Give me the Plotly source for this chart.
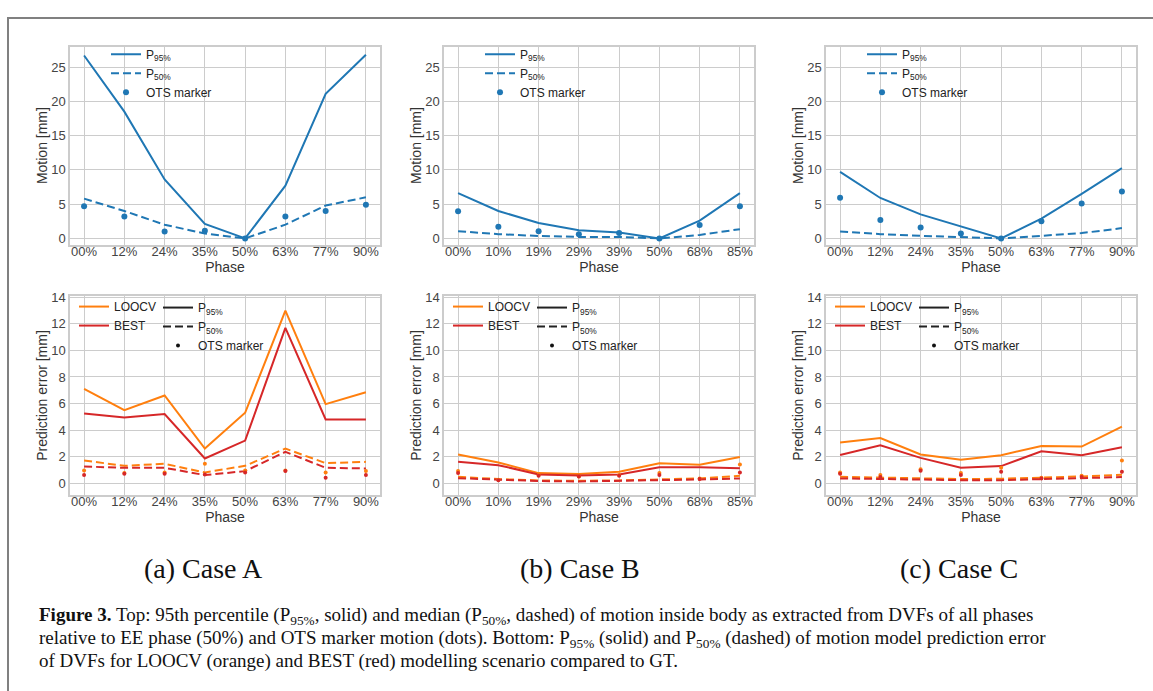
import plotly.graph_objects as go

W, H = 1153, 691

# ---------------- data ----------------
phases_A = ["00%", "12%", "24%", "35%", "50%", "63%", "77%", "90%"]
phases_B = ["00%", "10%", "19%", "29%", "39%", "50%", "68%", "85%"]
phases_C = ["00%", "12%", "24%", "35%", "50%", "63%", "77%", "90%"]

# top row: motion [mm]
motion_p95_A = [26.7, 18.5, 8.6, 2.1, 0.0, 7.7, 21.1, 26.8]
motion_p50_A = [5.8, 4.0, 2.0, 0.7, 0.0, 2.0, 4.8, 6.0]
motion_ots_A = [4.7, 3.2, 1.0, 1.1, 0.0, 3.2, 4.0, 4.9]

motion_p95_B = [6.6, 4.0, 2.25, 1.2, 0.85, 0.0, 2.6, 6.6]
motion_p50_B = [1.05, 0.62, 0.35, 0.22, 0.22, 0.0, 0.5, 1.35]
motion_ots_B = [3.95, 1.7, 1.05, 0.6, 0.8, 0.0, 1.95, 4.7]

motion_p95_C = [9.7, 5.9, 3.5, 1.7, 0.0, 2.9, 6.5, 10.25]
motion_p50_C = [1.0, 0.62, 0.38, 0.2, 0.0, 0.38, 0.77, 1.5]
motion_ots_C = [5.95, 2.7, 1.6, 0.7, 0.0, 2.5, 5.1, 6.85]

# bottom row: prediction error [mm]
loocv_p95_A = [7.1, 5.5, 6.6, 2.6, 5.3, 13.0, 5.95, 6.85]
best_p95_A = [5.25, 4.95, 5.2, 1.85, 3.2, 11.7, 4.8, 4.8]
loocv_p50_A = [1.7, 1.3, 1.45, 0.8, 1.3, 2.6, 1.5, 1.6]
best_p50_A = [1.25, 1.15, 1.15, 0.6, 0.9, 2.35, 1.15, 1.1]
loocv_ots_A = [0.95, 0.75, 0.8, 1.45, 0.95, 0.95, 0.8, 0.9]
best_ots_A = [0.6, 0.7, 0.7, 0.65, 0.8, 0.9, 0.4, 0.6]

loocv_p95_B = [2.15, 1.55, 0.75, 0.68, 0.85, 1.5, 1.38, 1.97]
best_p95_B = [1.6, 1.35, 0.65, 0.57, 0.65, 1.2, 1.2, 1.12]
loocv_p50_B = [0.47, 0.3, 0.2, 0.17, 0.2, 0.27, 0.35, 0.55]
best_p50_B = [0.37, 0.25, 0.15, 0.12, 0.15, 0.22, 0.27, 0.35]
loocv_ots_B = [0.9, 0.25, 0.6, 0.5, 0.6, 0.75, 0.35, 1.4]
best_ots_B = [0.75, 0.22, 0.55, 0.5, 0.55, 0.6, 0.3, 0.8]

loocv_p95_C = [3.05, 3.4, 2.15, 1.75, 2.1, 2.8, 2.75, 4.25]
best_p95_C = [2.12, 2.85, 1.9, 1.15, 1.28, 2.4, 2.1, 2.7]
loocv_p50_C = [0.47, 0.4, 0.32, 0.3, 0.32, 0.4, 0.5, 0.62]
best_p50_C = [0.35, 0.3, 0.25, 0.22, 0.22, 0.3, 0.37, 0.45]
loocv_ots_C = [0.8, 0.6, 1.05, 0.75, 1.15, 0.4, 0.55, 1.7]
best_ots_C = [0.7, 0.45, 0.92, 0.6, 0.85, 0.35, 0.45, 0.85]

case_labels = ["(a) Case A", "(b) Case B", "(c) Case C"]
caption_lines = [
    "<b>Figure 3.</b> Top: 95th percentile (P<sub>95%</sub>, solid) and median (P<sub>50%</sub>, dashed) of motion inside body as extracted from DVFs of all phases",
    "relative to EE phase (50%) and OTS marker motion (dots). Bottom: P<sub>95%</sub> (solid) and P<sub>50%</sub> (dashed) of motion model prediction error",
    "of DVFs for LOOCV (orange) and BEST (red) modelling scenario compared to GT.",
]

# ---------------- style ----------------
BLUE = "#1f77b4"
ORANGE = "#ff7f0e"
RED = "#d62728"
GRID = "#cccccc"
TXT = "#333333"
SANS = "Liberation Sans, Arial, sans-serif"
SERIF = "Liberation Serif, Times New Roman, serif"
DASH = "8px,4px"
LW = 2

def px_x(p):
    return p / W

def px_y(p):
    return 1 - p / H

col_px = [(70, 380), (444, 754), (826, 1136)]
top_px = (41, 241)
bot_px = (293, 494)

fig = go.Figure()

top_sets = [
    (phases_A, motion_p95_A, motion_p50_A, motion_ots_A),
    (phases_B, motion_p95_B, motion_p50_B, motion_ots_B),
    (phases_C, motion_p95_C, motion_p50_C, motion_ots_C),
]
bot_sets = [
    (phases_A, loocv_p95_A, best_p95_A, loocv_p50_A, best_p50_A, loocv_ots_A, best_ots_A),
    (phases_B, loocv_p95_B, best_p95_B, loocv_p50_B, best_p50_B, loocv_ots_B, best_ots_B),
    (phases_C, loocv_p95_C, best_p95_C, loocv_p50_C, best_p50_C, loocv_ots_C, best_ots_C),
]

legend_layouts = {}
leg_n = 1

def leg_name(n):
    return "legend" if n == 1 else f"legend{n}"

# top row
for i, (ph, p95, p50, ots) in enumerate(top_sets):
    ax = i + 1
    xa = "x" if ax == 1 else f"x{ax}"
    ya = "y" if ax == 1 else f"y{ax}"
    lg = leg_name(leg_n)
    fig.add_trace(go.Scatter(x=ph, y=p95, mode="lines", line=dict(color=BLUE, width=LW),
                             name="P<sub>95%</sub>", xaxis=xa, yaxis=ya, legend=lg))
    fig.add_trace(go.Scatter(x=ph, y=p50, mode="lines", line=dict(color=BLUE, width=LW, dash=DASH),
                             name="P<sub>50%</sub>", xaxis=xa, yaxis=ya, legend=lg))
    fig.add_trace(go.Scatter(x=ph, y=ots, mode="markers", marker=dict(color=BLUE, size=6),
                             name="OTS marker", xaxis=xa, yaxis=ya, legend=lg))
    legend_layouts[lg] = dict(x=px_x(col_px[i][0] + 36), y=px_y(34))
    leg_n += 1

# bottom row
for i, (ph, lp95, bp95, lp50, bp50, lots, bots) in enumerate(bot_sets):
    ax = i + 4
    xa = f"x{ax}"
    ya = f"y{ax}"
    lg1 = leg_name(leg_n)
    lg2 = leg_name(leg_n + 1)
    fig.add_trace(go.Scatter(x=ph, y=lp95, mode="lines", line=dict(color=ORANGE, width=LW),
                             name="LOOCV", xaxis=xa, yaxis=ya, legend=lg1))
    fig.add_trace(go.Scatter(x=ph, y=bp95, mode="lines", line=dict(color=RED, width=LW),
                             name="BEST", xaxis=xa, yaxis=ya, legend=lg1))
    fig.add_trace(go.Scatter(x=ph, y=lp50, mode="lines", line=dict(color=ORANGE, width=LW, dash=DASH),
                             showlegend=False, xaxis=xa, yaxis=ya))
    fig.add_trace(go.Scatter(x=ph, y=bp50, mode="lines", line=dict(color=RED, width=LW, dash=DASH),
                             showlegend=False, xaxis=xa, yaxis=ya))
    fig.add_trace(go.Scatter(x=ph, y=lots, mode="markers", marker=dict(color=ORANGE, size=4),
                             showlegend=False, xaxis=xa, yaxis=ya))
    fig.add_trace(go.Scatter(x=ph, y=bots, mode="markers", marker=dict(color=RED, size=4),
                             showlegend=False, xaxis=xa, yaxis=ya))
    # style-key entries (black)
    fig.add_trace(go.Scatter(x=[None], y=[None], mode="lines", line=dict(color="#222222", width=LW),
                             name="P<sub>95%</sub>", xaxis=xa, yaxis=ya, legend=lg2))
    fig.add_trace(go.Scatter(x=[None], y=[None], mode="lines", line=dict(color="#222222", width=LW, dash=DASH),
                             name="P<sub>50%</sub>", xaxis=xa, yaxis=ya, legend=lg2))
    fig.add_trace(go.Scatter(x=[None], y=[None], mode="markers", marker=dict(color="#111111", size=4),
                             name="OTS marker", xaxis=xa, yaxis=ya, legend=lg2))
    x0 = col_px[i][0]
    legend_layouts[lg1] = dict(x=px_x(x0 + 4), y=px_y(289))
    legend_layouts[lg2] = dict(x=px_x(x0 + 88), y=px_y(290))
    leg_n += 2

layout = dict(
    width=W, height=H,
    margin=dict(l=0, r=0, t=0, b=0),
    paper_bgcolor="white", plot_bgcolor="white",
    font=dict(family=SANS, color=TXT, size=13),
)

for lg, pos in legend_layouts.items():
    layout[lg] = dict(x=pos["x"], y=pos["y"], xanchor="left", yanchor="top",
                      bgcolor="rgba(0,0,0,0)", borderwidth=0,
                      font=dict(family=SANS, size=12, color="#222222"),
                      itemwidth=30, tracegroupgap=0)

def xaxis_def(i, row):
    x0, x1 = col_px[i]
    return dict(domain=[px_x(x0), px_x(x1)], type="category",
                range=[-0.35, 7.35], showgrid=True, gridcolor=GRID, gridwidth=1.2,
                showline=True, linecolor=GRID, linewidth=1.5, mirror=True,
                ticks="", ticklabelstandoff=-6,
                tickfont=dict(size=13, color="#444444", family=SANS),
                title=dict(text="Phase", font=dict(size=14, color="#333333", family=SANS), standoff=4),
                zeroline=False, fixedrange=True)

def yaxis_def(i, row):
    ypx = top_px if row == 0 else bot_px
    if row == 0:
        rng = [-0.9, 28.0]
        tv = [0, 5, 10, 15, 20, 25]
        title = "Motion [mm]"
    else:
        rng = [-0.9, 14.1]
        tv = [0, 2, 4, 6, 8, 10, 12, 14]
        title = "Prediction error [mm]"
    return dict(domain=[px_y(ypx[1]), px_y(ypx[0])], range=rng, tickvals=tv,
                showgrid=True, gridcolor=GRID, gridwidth=1.2,
                showline=True, linecolor=GRID, linewidth=1.5, mirror=True,
                ticks="", tickfont=dict(size=13, color="#444444", family=SANS),
                title=dict(text=title, font=dict(size=14, color="#333333", family=SANS), standoff=0),
                zeroline=False, fixedrange=True)

for row in range(2):
    for i in range(3):
        n = row * 3 + i + 1
        xk = "xaxis" if n == 1 else f"xaxis{n}"
        yk = "yaxis" if n == 1 else f"yaxis{n}"
        xd = xaxis_def(i, row)
        xd["anchor"] = "y" if n == 1 else f"y{n}"
        yd = yaxis_def(i, row)
        yd["anchor"] = "x" if n == 1 else f"x{n}"
        layout[xk] = xd
        layout[yk] = yd

annotations = []
case_cx = [203, 580, 959]
for cx, lab in zip(case_cx, case_labels):
    annotations.append(dict(text=lab, x=px_x(cx), y=px_y(568), xref="paper", yref="paper",
                            xanchor="center", yanchor="middle", showarrow=False,
                            font=dict(family=SERIF, size=28, color="#111111")))
cap_y = [616, 639, 662]
for yy, line in zip(cap_y, caption_lines):
    annotations.append(dict(text=line, x=px_x(37), y=px_y(yy), xref="paper", yref="paper",
                            xanchor="left", yanchor="middle", showarrow=False,
                            font=dict(family=SERIF, size=19, color="#111111")))
layout["annotations"] = annotations

layout["shapes"] = [dict(type="rect", xref="paper", yref="paper",
                         x0=px_x(8), x1=px_x(1170), y0=px_y(710), y1=px_y(12),
                         line=dict(color="#808080", width=2), fillcolor="rgba(0,0,0,0)",
                         layer="below")]

fig.update_layout(**layout)
fig.write_html("out.html")
